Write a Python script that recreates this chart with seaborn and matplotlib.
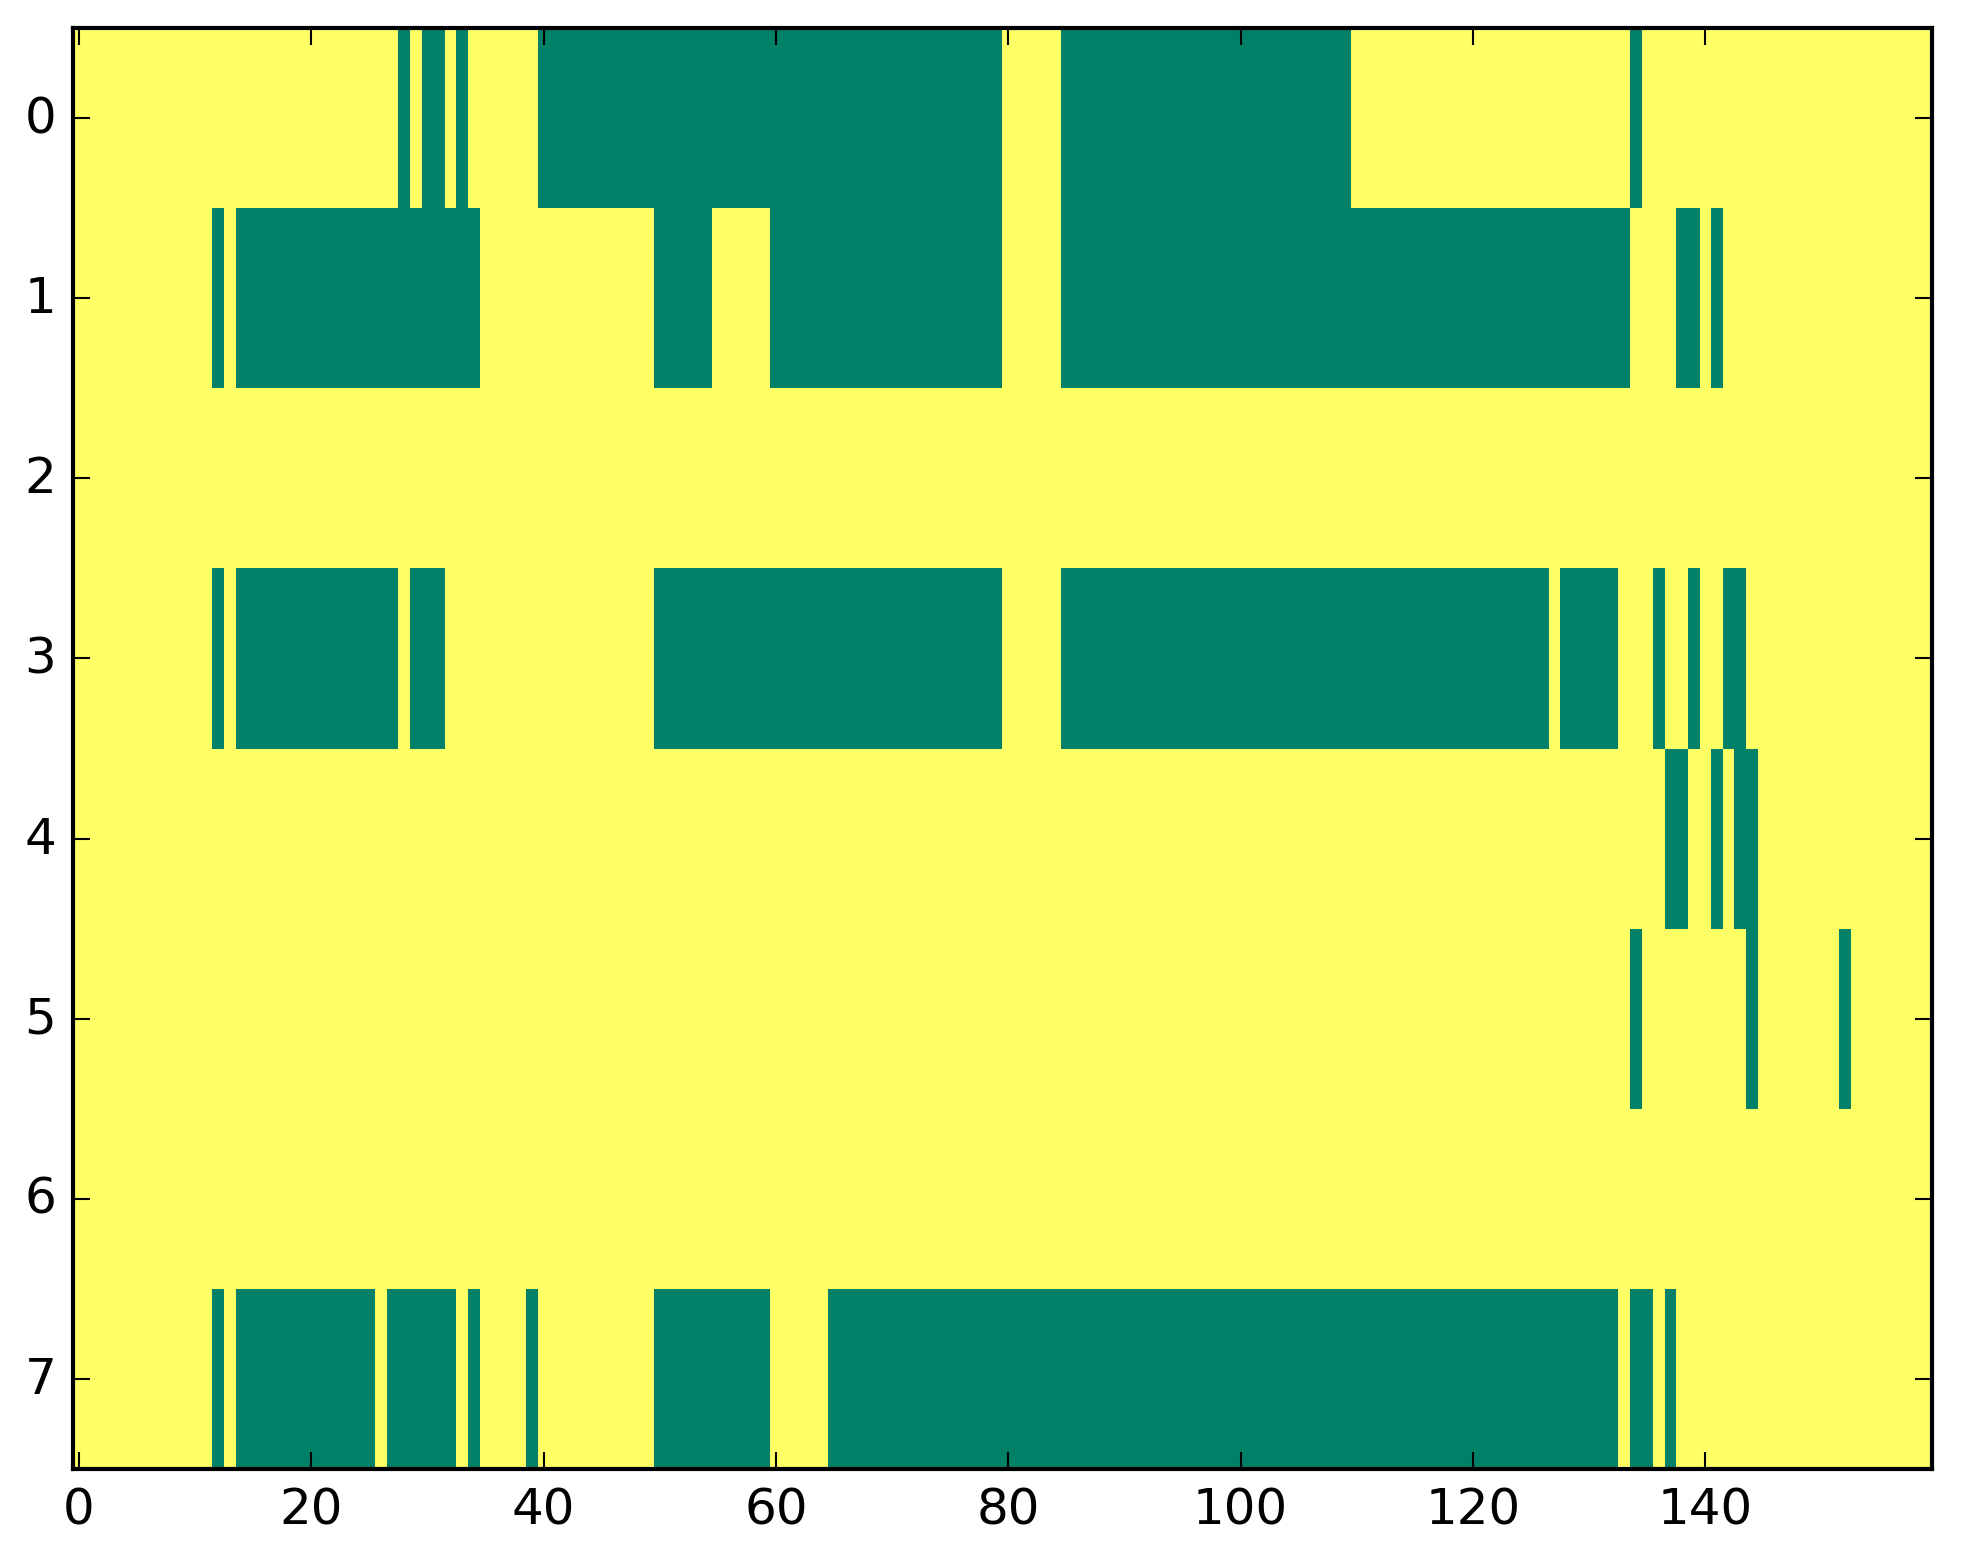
# ==========================================================
# BINARY STATE MAP - 8 rows x 160 columns
# plot.py
# ==========================================================

import numpy as np
import pandas as pd
import matplotlib
matplotlib.use("Agg")
import matplotlib.pyplot as plt
import seaborn as sns

# ==========================
# DATA
# ==========================

n_rows = 8
n_cols = 160

# green cells (value 0), as inclusive column runs per row
row0_zero = [(28, 28), (30, 31), (33, 33), (40, 79), (85, 109), (134, 134)]
row1_zero = [(12, 12), (14, 34), (50, 54), (60, 79), (85, 133), (138, 139), (141, 141)]
row2_zero = []
row3_zero = [(12, 12), (14, 27), (29, 31), (50, 79), (85, 126), (128, 132),
             (136, 136), (139, 139), (142, 143)]
row4_zero = [(137, 138), (141, 141), (143, 144)]
row5_zero = [(134, 134), (144, 144), (152, 152)]
row6_zero = []
row7_zero = [(12, 12), (14, 25), (27, 32), (34, 34), (39, 39), (50, 59),
             (65, 132), (134, 135), (137, 137)]

zero_runs = [row0_zero, row1_zero, row2_zero, row3_zero,
             row4_zero, row5_zero, row6_zero, row7_zero]

x_ticks = [0, 20, 40, 60, 80, 100, 120, 140]
y_ticks = [0, 1, 2, 3, 4, 5, 6, 7]

# build the matrix
grid = np.ones((n_rows, n_cols))
for r, runs in enumerate(zero_runs):
    for a, b in runs:
        grid[r, a:b + 1] = 0

df = pd.DataFrame(grid)

# ==========================
# STYLE
# ==========================

sns.set_style("ticks")
plt.rcParams["font.family"] = ["DejaVu Sans"]
plt.rcParams["font.size"] = 12

W, H, DPI = 1963, 1564, 300

fig = plt.figure(figsize=(W / DPI, H / DPI), dpi=DPI)
ax = fig.add_axes([73 / W, (H - 1470) / H, 1859 / W, 1441 / H])

# ==========================
# PLOT
# ==========================

sns.heatmap(
    df,
    ax=ax,
    cmap="summer",
    vmin=0,
    vmax=1,
    cbar=False,
    xticklabels=False,
    yticklabels=False
)

ax.set_xlim(0, n_cols)
ax.set_ylim(n_rows, 0)

ax.set_xticks([t + 0.5 for t in x_ticks])
ax.set_xticklabels([str(t) for t in x_ticks], rotation=0)
ax.set_yticks([t + 0.5 for t in y_ticks])
ax.set_yticklabels([str(t) for t in y_ticks], rotation=0, va="center")
ax.set_xlabel("")
ax.set_ylabel("")

# ticks point inward, so they must sit on top of the mesh
ax.set_axisbelow(False)

for side in ["left", "right", "top", "bottom"]:
    ax.spines[side].set_visible(True)
    ax.spines[side].set_linewidth(1.0)
    ax.spines[side].set_color("black")
    ax.spines[side].set_zorder(5)

ax.tick_params(
    axis="both",
    which="major",
    direction="in",
    top=True,
    right=True,
    length=4,
    width=0.5,
    pad=4,
    labelsize=12,
    colors="black"
)

fig.savefig("out.png", dpi=DPI)
